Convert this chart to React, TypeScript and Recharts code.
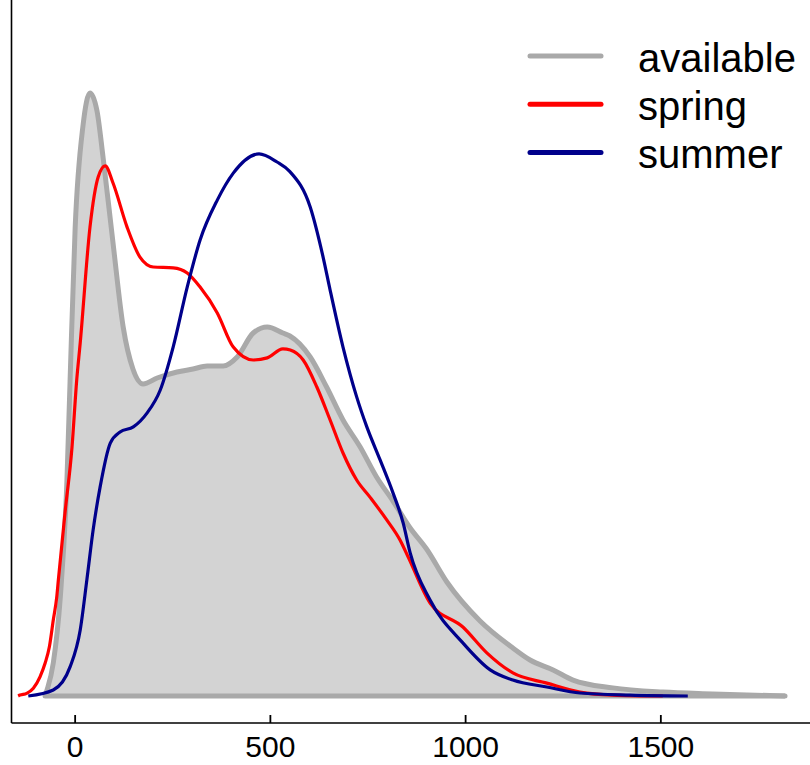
import React from "react";
import { ComposedChart, Area, Line, XAxis, YAxis, ReferenceLine } from "recharts";

// Density curves (x in original units, y = density × 1e3)
const availableX = [-77, -72, -56, -38, -21, -13, 0, 20, 38, 56, 72, 97, 123, 148, 174, 210, 261, 302, 338, 379, 415, 456, 492, 532, 550, 602, 644, 686, 730, 772, 814, 858, 900, 952, 1037, 1121, 1165, 1224, 1275, 1377, 1505, 1633, 1818];
const availableY = [0, 0.02, 0.11, 0.33, 0.72, 1.05, 1.56, 1.9, 2.01, 1.95, 1.79, 1.51, 1.23, 1.09, 1.04, 1.06, 1.08, 1.09, 1.1, 1.1, 1.13, 1.21, 1.23, 1.21, 1.2, 1.13, 1.03, 0.92, 0.83, 0.73, 0.65, 0.56, 0.49, 0.38, 0.25, 0.16, 0.12, 0.087, 0.053, 0.027, 0.013, 0.007, 0];

const springX = [-146, -141, -124, -107, -90, -77, -66, -56, -47, -43, -26, -8, 4, 13, 38, 59, 77, 97, 133, 166, 200, 251, 287, 320, 364, 405, 456, 492, 532, 551, 584, 619, 653, 686, 721, 755, 798, 832, 853, 909, 993, 1055, 1121, 1208, 1293, 1377, 1505];
const springY = [0, 0.003, 0.009, 0.026, 0.064, 0.109, 0.164, 0.253, 0.331, 0.387, 0.61, 0.83, 1.053, 1.177, 1.563, 1.73, 1.767, 1.71, 1.563, 1.463, 1.43, 1.427, 1.41, 1.363, 1.277, 1.163, 1.12, 1.127, 1.157, 1.153, 1.12, 1.03, 0.92, 0.81, 0.72, 0.663, 0.587, 0.52, 0.463, 0.31, 0.23, 0.143, 0.077, 0.043, 0.013, 0.003, 0];

const summerX = [-120, -56, -13, 13, 30, 46, 64, 90, 115, 149, 184, 218, 251, 287, 320, 364, 405, 471, 517, 550, 602, 635, 653, 686, 721, 747, 781, 814, 840, 858, 909, 993, 1063, 1121, 1208, 1293, 1421, 1569];
const summerY = [0, 0.02, 0.097, 0.22, 0.387, 0.553, 0.697, 0.843, 0.88, 0.897, 0.943, 1.02, 1.163, 1.363, 1.52, 1.653, 1.743, 1.807, 1.78, 1.748, 1.63, 1.463, 1.353, 1.163, 0.997, 0.897, 0.787, 0.677, 0.577, 0.477, 0.32, 0.177, 0.087, 0.053, 0.03, 0.01, 0.003, 0];

const xTicks = [0, 500, 1000, 1500];
const xDomain = [-163, 1882];
const yDomain = [-0.09, 2.32];

const seriesNames = ["available", "spring", "summer"];
const seriesColors = ["#A9A9A9", "#FF0000", "#00008B"];
const availableFill = "#D3D3D3";

const toPoints = (xs: number[], ys: number[]) => xs.map((x, i) => ({ x, y: ys[i] }));
const availableData = toPoints(availableX, availableY);
const springData = toPoints(springX, springY);
const summerData = toPoints(summerX, summerY);

const FONT = "'Liberation Sans', Arial, sans-serif";

const renderXTick = (props: any) => {
  const { x, y, payload } = props;
  return (
    <g>
      <rect x={x - 0.9} y={y - 8} width={1.8} height={8} fill="#000" />
      <text x={x} y={y + 34} textAnchor="middle" fontSize={30} fontFamily={FONT} fill="#000">
        {payload.value}
      </text>
    </g>
  );
};

export default function App() {
  const W = 810;
  const H = 765;
  return (
    <div style={{ position: "absolute", left: 0, top: 0, width: W, height: H, background: "#fff" }}>
      <ComposedChart width={W} height={H} margin={{ top: 0, right: 0, bottom: 0, left: 0 }}>
        <Area
          data={availableData}
          dataKey="y"
          type="monotone"
          fill={availableFill}
          fillOpacity={1}
          stroke={seriesColors[0]}
          strokeWidth={5}
          isAnimationActive={false}
          dot={false}
          activeDot={false}
        />
        <ReferenceLine
          segment={[
            { x: availableX[0], y: 0 },
            { x: availableX[availableX.length - 1], y: 0 },
          ]}
          stroke={seriesColors[0]}
          strokeWidth={5}
          strokeLinecap="round"
        />
        <Line
          data={springData}
          dataKey="y"
          type="monotone"
          stroke={seriesColors[1]}
          strokeWidth={3.2}
          dot={false}
          activeDot={false}
          isAnimationActive={false}
        />
        <Line
          data={summerData}
          dataKey="y"
          type="monotone"
          stroke={seriesColors[2]}
          strokeWidth={3.2}
          dot={false}
          activeDot={false}
          isAnimationActive={false}
        />
        <XAxis
          type="number"
          dataKey="x"
          domain={xDomain}
          allowDataOverflow
          ticks={xTicks}
          height={42}
          tickSize={0}
          tickMargin={0}
          tickLine={false}
          axisLine={{ stroke: "#000", strokeWidth: 1.6 }}
          tick={renderXTick}
          interval={0}
        />
        <YAxis
          type="number"
          dataKey="y"
          domain={yDomain}
          allowDataOverflow
          width={11.5}
          tick={false}
          tickLine={false}
          axisLine={{ stroke: "#000", strokeWidth: 1.6 }}
        />
      </ComposedChart>
      <svg
        width={W}
        height={H}
        style={{ position: "absolute", left: 0, top: 0, pointerEvents: "none" }}
      >
        {seriesNames.map((name, i) => {
          const cy = 56 + i * 48.3;
          return (
            <g key={name}>
              <line x1={530} x2={601} y1={cy} y2={cy} stroke={seriesColors[i]} strokeWidth={5} strokeLinecap="round" />
              <text x={638} y={cy + 15.5} fontSize={40} fontFamily={FONT} fill="#000">
                {name}
              </text>
            </g>
          );
        })}
      </svg>
    </div>
  );
}
